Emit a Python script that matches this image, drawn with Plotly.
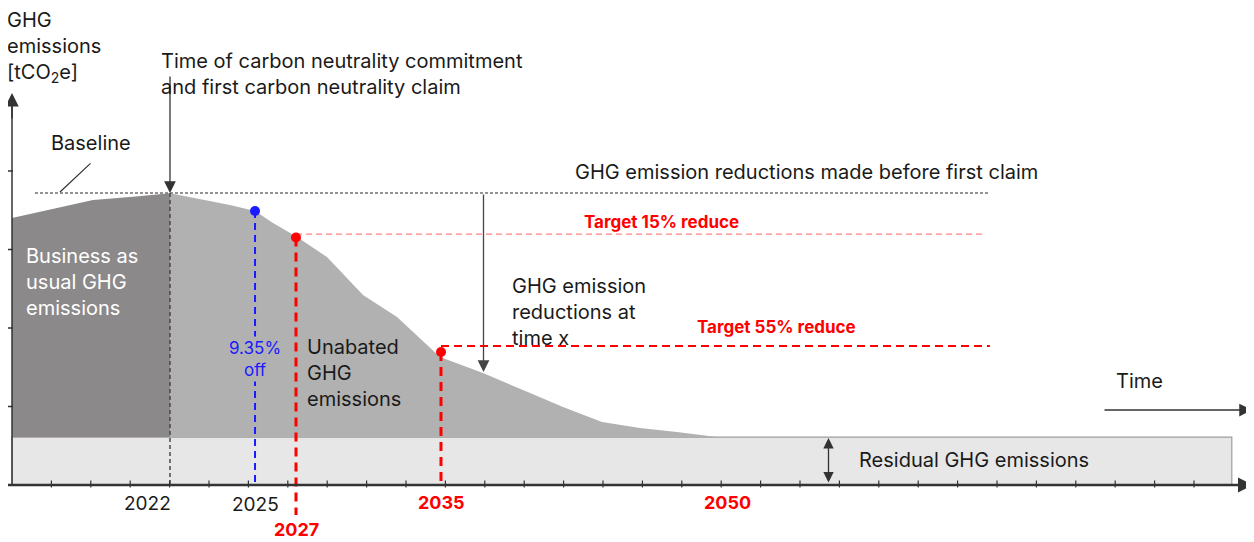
import plotly.graph_objects as go

# ---------------- data (diagram units: 1 x-unit = one minor time tick, 1 y-unit = one emission tick)
bau_t = [0.0, 1.218, 2.056, 3.071, 4.010]
bau_v = [3.401, 3.541, 3.631, 3.673, 3.716]

unabated_t = [4.010, 5.533, 6.168, 6.624, 7.234, 7.995, 8.909, 9.772, 10.863,
              11.954, 12.970, 13.985, 14.975, 15.939, 16.878, 17.893]
unabated_v = [3.716, 3.567, 3.490, 3.338, 3.159, 2.904, 2.420, 2.140, 1.631,
              1.427, 1.210, 0.994, 0.803, 0.726, 0.675, 0.611]

residual_level = 0.611
residual_end_t = 30.96

baseline_v = 3.72
baseline_t = [0.584, 24.82]
commit_t = 4.010

milestone_t = [6.168, 7.208, 10.888]
milestone_v = [3.490, 3.153, 1.694]
milestone_colors = ["#1a1aff", "#ff0000", "#ff0000"]

target_labels = ["Target 15% reduce", "Target 55% reduce"]
target_v = [3.197, 1.771]
target_t0 = [7.208, 10.888]
target_t1 = [24.70, 24.82]

year_labels = ["2022", "2025", "2027", "2035", "2050"]
year_label_t = [3.44, 6.18, 7.21, 10.89, 18.15]
year_label_red = [False, False, True, True, True]

x_ticks = list(range(1, 31))
y_ticks = [1, 2, 3, 4]

# ---------------- geometry of the page (the browser body keeps an 8 px margin)
PAGE_W, PAGE_H = 1254, 542
BODY = 8
W, H = PAGE_W - BODY, PAGE_H - BODY
X0, XU = 12.0, 39.4     # page pixel of t=0, pixels per unit
Y0, YU = 485.0, 78.5    # page pixel of v=0, pixels per unit


def tx(px):
    return (px - X0) / XU


def vy(py):
    return (Y0 - py) / YU


FONT = "Inter"
INK = "#1a1a1a"
AX = "#333333"
DARK = "#8b898a"
LIGHT = "#b1b1b1"
RESID = "#e7e7e7"

fig = go.Figure()

# residual band
fig.add_shape(type="rect", x0=0, y0=0, x1=residual_end_t, y1=residual_level,
              fillcolor=RESID, line=dict(color="#9d9d9d", width=1.2), layer="below")

# business as usual area
fig.add_trace(go.Scatter(x=bau_t + bau_t[::-1], y=bau_v + [residual_level] * len(bau_t),
                         fill="toself", fillcolor=DARK, line=dict(width=0), mode="lines",
                         hoverinfo="skip"))
# unabated area
fig.add_trace(go.Scatter(x=unabated_t + unabated_t[::-1],
                         y=unabated_v + [residual_level] * len(unabated_t),
                         fill="toself", fillcolor=LIGHT, line=dict(width=0), mode="lines",
                         hoverinfo="skip"))

# baseline dotted
fig.add_trace(go.Scatter(x=baseline_t, y=[baseline_v, baseline_v], mode="lines",
                         line=dict(color="#707070", width=1.5, dash="3px,2px"), hoverinfo="skip"))
# 2022 vertical dotted
fig.add_trace(go.Scatter(x=[commit_t, commit_t], y=[baseline_v, 0], mode="lines",
                         line=dict(color="#4a4a4a", width=1.5, dash="4px,3px"), hoverinfo="skip"))

# target horizontal lines
fig.add_trace(go.Scatter(x=[target_t0[0], target_t1[0]], y=[target_v[0]] * 2, mode="lines",
                         line=dict(color="#ff8080", width=1.2, dash="6px,4px"), hoverinfo="skip"))
fig.add_trace(go.Scatter(x=[target_t0[1], target_t1[1]], y=[target_v[1]] * 2, mode="lines",
                         line=dict(color="#ff0000", width=2, dash="8px,5px"), hoverinfo="skip"))

# milestone verticals
drops = [0, vy(515), 0]
widths = [2, 3, 3]
dashes = ["7px,5px", "9px,6px", "9px,6px"]
for t, v, c, d, w, ds in zip(milestone_t, milestone_v, milestone_colors, drops, widths, dashes):
    fig.add_trace(go.Scatter(x=[t, t], y=[v, d], mode="lines",
                             line=dict(color=c, width=w, dash=ds), hoverinfo="skip"))
fig.add_trace(go.Scatter(x=milestone_t, y=milestone_v, mode="markers",
                         marker=dict(color=milestone_colors, size=10), hoverinfo="skip"))

# axes lines
fig.add_shape(type="line", x0=tx(8), y0=0, x1=tx(1242), y1=0, line=dict(color=AX, width=2.5))
fig.add_shape(type="line", x0=0, y0=0, x1=0, y1=vy(102), line=dict(color=AX, width=1.5))

# tick marks
fig.add_trace(go.Scatter(x=x_ticks, y=[vy(484)] * len(x_ticks), mode="markers",
                         marker=dict(symbol="line-ns", size=5, line=dict(color=AX, width=1.2)),
                         hoverinfo="skip"))
fig.add_trace(go.Scatter(x=[tx(9.5)] * len(y_ticks), y=y_ticks, mode="markers",
                         marker=dict(symbol="line-ew", size=5, line=dict(color=AX, width=1.5)),
                         hoverinfo="skip"))

ann = []


def arrow(x, y, ax_, ay_, width=1.3, color=AX, side="end", size=1.8):
    ann.append(dict(x=x, y=y, ax=ax_, ay=ay_, xref="x", yref="y", axref="x", ayref="y",
                    text="", showarrow=True, arrowhead=2, arrowsize=size, arrowwidth=width,
                    arrowcolor=color, arrowside=side, standoff=0, startstandoff=0))


# axis arrow heads
arrow(tx(1253), 0, tx(1225), 0, width=2, size=1.5)
arrow(0, vy(93), 0, vy(120), width=1.5, size=1.8)
# commitment arrow
arrow(commit_t, baseline_v, commit_t, vy(75))
# reductions arrow
arrow(tx(483.5), vy(372), tx(483.5), baseline_v, color="#444444")
# time arrow
arrow(tx(1252), vy(410), tx(1103), vy(410), width=1.5, size=1.7)
# residual double arrow
arrow(tx(828.5), vy(438), tx(828.5), vy(484), side="end+start", size=1.6)
# baseline leader
ann.append(dict(x=tx(60), y=vy(192), ax=tx(92), ay=vy(162), xref="x", yref="y", axref="x",
                ayref="y", text="", showarrow=True, arrowhead=0, arrowwidth=1.2, arrowcolor="#333"))


def text(s, px, py, size=20, color=INK, xanchor="left", bg=None, xshift=0):
    d = dict(x=tx(px), y=vy(py), xref="x", yref="y", text=s, xshift=xshift,
             showarrow=False, xanchor=xanchor, yanchor="middle",
             align=xanchor if xanchor != "center" else "center",
             font=dict(family=FONT, size=size, color=color))
    if bg:
        d["bgcolor"] = bg
    ann.append(d)


text("GHG<br>emissions<br>[tCO<sub>2</sub>e]", 10, 47, xshift=-5)
text("Time of carbon neutrality commitment<br>and first carbon neutrality claim", 159, 74)
text("Baseline", 49, 143)
text("GHG emission reductions made before first claim", 573, 172)
text("Business as<br>usual GHG<br>emissions", 24, 282, color="white")
text("9.35%<br>off", 255, 359, size=17, color="#1a1aff", xanchor="center", bg=LIGHT)
text("Unabated<br>GHG<br>emissions", 305, 373)
text("GHG emission<br>reductions at<br>time x", 510, 312)
text("Time", 1114, 381)
text("Residual GHG emissions", 857, 460)

for lab, px, py in zip(target_labels, [661, 776], [222, 327]):
    ann.append(dict(x=tx(px), y=vy(py), xref="x", yref="y", text="<b>%s</b>" % lab, showarrow=False,
                    xanchor="center", yanchor="middle",
                    font=dict(family=FONT, size=17, color="#ff0000")))

year_label_py = [503, 504, 529, 502, 502]
for lab, t, red, py in zip(year_labels, year_label_t, year_label_red, year_label_py):
    ann.append(dict(x=t, y=vy(py), xref="x", yref="y",
                    text="<b>%s</b>" % lab if red else lab, showarrow=False,
                    xanchor="center", yanchor="middle",
                    font=dict(family=FONT, size=18 if red else 19, color="#ff0000" if red else INK)))

fig.update_layout(
    width=W, height=H, margin=dict(l=0, r=0, t=0, b=0),
    paper_bgcolor="white", plot_bgcolor="white", showlegend=False,
    xaxis=dict(range=[tx(BODY), tx(PAGE_W)], visible=False, fixedrange=True),
    yaxis=dict(range=[vy(PAGE_H), vy(BODY)], visible=False, fixedrange=True),
    annotations=ann,
)

fig.write_html("out.html")
